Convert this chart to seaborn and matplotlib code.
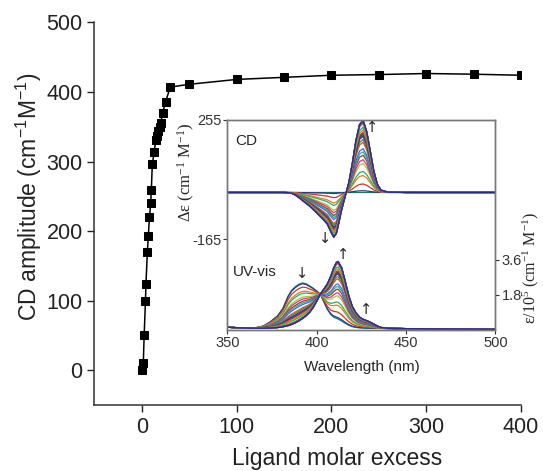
import matplotlib
matplotlib.use("Agg")
import matplotlib.pyplot as plt
import pandas as pd
import seaborn as sns

# titration: ligand molar excess vs CD amplitude
excess = [0, 1.5, 2.4, 3.8, 4.3, 5.8, 6.8, 8, 9.3, 10, 11, 13, 14.7, 16, 17.3, 18.6, 20, 22, 25, 30,
          50, 100, 150, 200, 250, 300, 350, 400]
amplitude = [0, 10, 50, 100, 124, 170, 193, 220, 240, 259, 297, 313, 331, 337, 344, 350, 356, 370, 386, 407,
             411, 418, 421, 424, 425, 426.5, 425.5, 424]

# inset spectra: first (free) and last (saturated) spectra
wavelength = [350, 360, 366, 370, 374, 378, 381, 384, 386, 388, 390, 392, 394, 396, 398, 400, 402, 404, 406, 408,
              409.5, 411, 412, 414, 416, 418, 420, 422, 424, 426, 428, 430, 432, 434, 436, 440, 450, 460, 480, 500]
cd_last = [0, 0, 0, 0, 0, 0, 0, -1, -3, -9, -18, -28, -38, -48, -60, -72, -85, -98, -112, -140,
           -158, -145, -118, -60, -12, 35, 105, 185, 240, 254, 215, 145, 75, 28, 8, 1, 0, 0, 0, 0]
uv_first = [0.14, 0.1, 0.12, 0.2, 0.42, 0.72, 1.1, 1.75, 2.05, 2.22, 2.35, 2.42, 2.38, 2.27, 2.15, 2.0, 1.84, 1.45,
            1.05, 0.78, 0.66, 0.6, 0.56, 0.46, 0.34, 0.24, 0.17, 0.13, 0.11, 0.1, 0.09, 0.09, 0.08, 0.08, 0.08,
            0.07, 0.06, 0.06, 0.05, 0.04]
uv_last = [0.14, 0.1, 0.09, 0.09, 0.1, 0.12, 0.16, 0.22, 0.28, 0.36, 0.46, 0.58, 0.72, 0.9, 1.15, 1.48, 1.84, 2.1,
           2.38, 2.8, 3.2, 3.48, 3.53, 3.2, 2.5, 1.75, 1.2, 0.88, 0.66, 0.55, 0.48, 0.4, 0.3, 0.2, 0.13, 0.09,
           0.07, 0.06, 0.05, 0.04]

spec_colors = ['#1a7a6a', '#2b3a8c', '#c0392b', '#e67e22', '#27ae60', '#a4c639', '#d63384',
               '#8b4513', '#20b2aa', '#4169e1', '#ff4500', '#2e8b57', '#9932cc', '#1f2f86']

sns.set_style("ticks")
plt.rcParams['font.family'] = ['Liberation Sans', 'DejaVu Sans']
plt.rcParams['mathtext.default'] = 'regular'

fig = plt.figure(figsize=(5.43, 4.71), dpi=100)
ax = fig.add_axes([0.174, 0.140, 0.7855, 0.8125])

sns.lineplot(x=excess, y=amplitude, ax=ax, color='black', lw=1.1, marker='s', markersize=5.5,
             markeredgecolor='black', estimator=None)
ax.set_xlim(-50, 400)
ax.set_ylim(-50, 500)
ax.set_xticks([0, 100, 200, 300, 400])
ax.set_yticks([0, 100, 200, 300, 400, 500])
ax.tick_params(labelsize=15.5, length=5, width=1, colors='#222222')
for s in ['left', 'bottom']:
    ax.spines[s].set_color('#333333')
    ax.spines[s].set_linewidth(1.1)
sns.despine(ax=ax)
ax.set_xlabel('')
ax.set_ylabel('')
fig.text(0.6206, 0.027, 'Ligand molar excess', fontsize=16.5, ha='center', va='center', color='#222222')
fig.text(0.053, 0.582, r'CD amplitude (cm$^{-1}$M$^{-1}$)', fontsize=16.5, ha='center', va='center',
         rotation=90, color='#222222')

# inset
ax_in = fig.add_axes([0.4188, 0.2994, 0.4934, 0.4459])
ax_tw = ax_in.twinx()

amax = max(amplitude)
rows = []
for i, a in enumerate(amplitude):
    f = a / amax
    for w, c, u0, u1 in zip(wavelength, cd_last, uv_first, uv_last):
        rows.append({'wl': w, 'cd': f * c, 'uv': u0 + f * (u1 - u0), 'curve': str(i)})
spectra = pd.DataFrame(rows)
pal = [spec_colors[i % len(spec_colors)] for i in range(len(amplitude))]

sns.lineplot(data=spectra, x='wl', y='cd', hue='curve', palette=pal, ax=ax_in, legend=False,
             estimator=None, sort=False, lw=0.9)
sns.lineplot(data=spectra, x='wl', y='uv', hue='curve', palette=pal, ax=ax_tw, legend=False,
             estimator=None, sort=False, lw=0.9)

ax_in.set_xlim(350, 500)
ax_in.set_ylim(-484, 255)
ax_tw.set_ylim(0, 10.8)
ax_in.set_xticks([350, 400, 450, 500])
ax_in.set_yticks([-165, 255], labels=['-165', '255'])
ax_tw.set_yticks([1.8, 3.6], labels=['1.8', '3.6'])
for a in (ax_in, ax_tw):
    a.tick_params(labelsize=10.5, length=3, width=0.8, pad=1.5, colors='#333333')
    a.set_xlabel('')
    a.set_ylabel('')
    for s in a.spines.values():
        s.set_color('#777777')
        s.set_linewidth(1.0)

ax_in.text(0.028, 0.90, 'CD', transform=ax_in.transAxes, fontsize=11, va='center', ha='left')
ax_in.text(0.021, 0.276, 'UV-vis', transform=ax_in.transAxes, fontsize=11, va='center', ha='left')
ax_in.text(430.8, 228, '\u2191', fontsize=10.5, ha='center', va='center', family=['DejaVu Sans'])
ax_in.text(404.6, -162, '\u2193', fontsize=10.5, ha='center', va='center', family=['DejaVu Sans'])
ax_tw.text(414.7, 3.88, '\u2191', fontsize=10.5, ha='center', va='center', family=['DejaVu Sans'])
ax_tw.text(392.1, 2.9, '\u2193', fontsize=10.5, ha='center', va='center', family=['DejaVu Sans'])
ax_tw.text(427.7, 1.05, '\u2191', fontsize=10.5, ha='center', va='center', family=['DejaVu Sans'])

fig.text(0.6657, 0.2208, 'Wavelength (nm)', fontsize=11, ha='center', va='center')
fig.text(0.3425, 0.6348, '\u0394\u03b5 (cm$^{-1}$ M$^{-1}$)', fontsize=12, ha='center', va='center',
         rotation=90, family=['Liberation Serif', 'DejaVu Serif'])
fig.text(0.977, 0.431, '\u03b5/10$^{5}$ (cm$^{-1}$ M$^{-1}$)', fontsize=11.5, ha='center', va='center',
         rotation=90, family=['Liberation Serif', 'DejaVu Serif'])

fig.savefig('out.png', dpi=100)
